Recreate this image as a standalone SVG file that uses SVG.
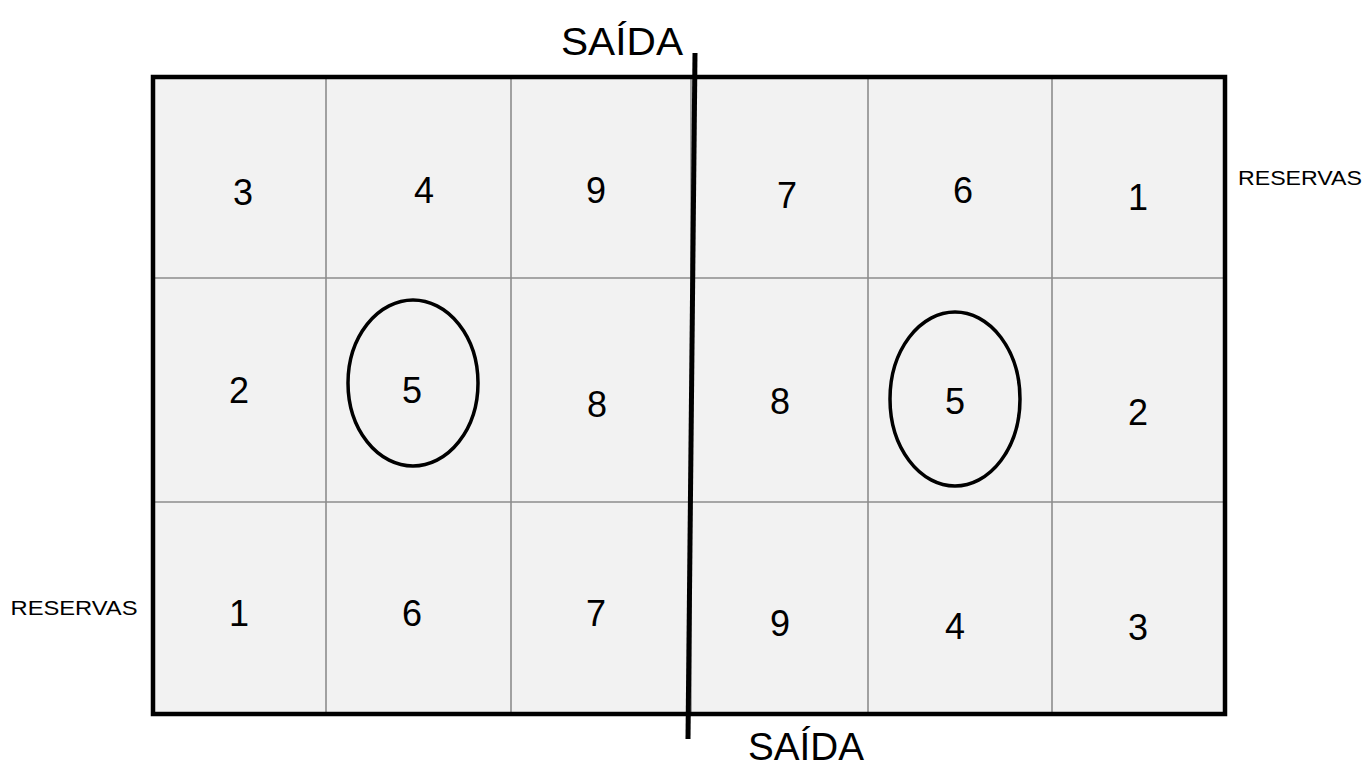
<svg xmlns="http://www.w3.org/2000/svg" width="1366" height="769" viewBox="0 0 1366 769">
<style>
.num{font-family:"Liberation Sans",Arial,sans-serif;font-size:36px;fill:#000;text-anchor:middle}
.lbl{font-family:"Liberation Sans",Arial,sans-serif;font-size:38px;fill:#000;text-anchor:middle}
.res{font-family:"Liberation Sans",Arial,sans-serif;font-size:21px;fill:#000;text-anchor:middle}
.grid{stroke:#8c8c8c;stroke-width:1.6;fill:none}
.ell{fill:none;stroke:#000;stroke-width:3.5}
</style>
<rect width="1366" height="769" fill="#fff"/>
<g id="court">
<rect x="153" y="77" width="1072" height="637" fill="#f2f2f2"/>
<g class="grid">
<line x1="326" y1="77" x2="326" y2="714"/>
<line x1="511" y1="77" x2="511" y2="714"/>
<line x1="691" y1="77" x2="691" y2="714"/>
<line x1="868" y1="77" x2="868" y2="714"/>
<line x1="1052" y1="77" x2="1052" y2="714"/>
<line x1="153" y1="278" x2="1225" y2="278"/>
<line x1="153" y1="502" x2="1225" y2="502"/>
</g>
<rect x="153" y="77" width="1072" height="637" fill="none" stroke="#000" stroke-width="4.5"/>
</g>
<g id="connectors">
<line x1="695" y1="53" x2="688" y2="739" stroke="#000" stroke-width="5"/>
</g>
<g id="ellipses">
<ellipse class="ell" cx="413" cy="383" rx="65" ry="83"/>
<ellipse class="ell" cx="955" cy="399" rx="65" ry="87"/>
</g>
<g id="numbers">
<text class="num" x="243" y="205">3</text>
<text class="num" x="424" y="203">4</text>
<text class="num" x="596" y="203">9</text>
<text class="num" x="787" y="208">7</text>
<text class="num" x="963" y="203">6</text>
<text class="num" x="1138" y="210">1</text>
<text class="num" x="239" y="403">2</text>
<text class="num" x="412" y="403">5</text>
<text class="num" x="597" y="417">8</text>
<text class="num" x="780" y="414">8</text>
<text class="num" x="955" y="414">5</text>
<text class="num" x="1138" y="425">2</text>
<text class="num" x="239" y="626">1</text>
<text class="num" x="412" y="626">6</text>
<text class="num" x="596" y="626">7</text>
<text class="num" x="780" y="636">9</text>
<text class="num" x="955" y="639">4</text>
<text class="num" x="1138" y="640">3</text>
</g>
<g id="labels">
<text class="lbl" x="622" y="55" textLength="122" lengthAdjust="spacingAndGlyphs">SAÍDA</text>
<text class="lbl" x="806" y="760" font-size="36" textLength="116" lengthAdjust="spacingAndGlyphs">SAÍDA</text>
<text class="res" x="1300" y="185" textLength="124" lengthAdjust="spacingAndGlyphs">RESERVAS</text>
<text class="res" x="74" y="615" textLength="127" lengthAdjust="spacingAndGlyphs">RESERVAS</text>
</g>
</svg>
